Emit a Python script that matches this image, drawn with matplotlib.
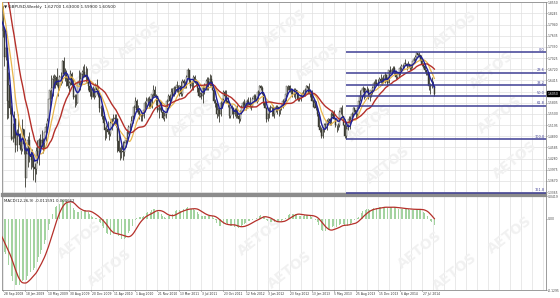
import matplotlib
matplotlib.use('Agg')
import matplotlib.pyplot as plt
from matplotlib import rcParams, transforms
import numpy as np
import pandas as pd

# GBPUSD weekly, first bar = week of 28 Sep 2008
# closes before the first shown bar (Mar-Sep 2008), only used to warm up the indicators
pre_close = [2.0150, 2.0250, 1.9850, 2.0000, 1.9950, 1.9700, 1.9950, 1.9700, 1.9750, 1.9500,
             1.9500, 1.9800, 1.9750, 1.9700, 1.9650, 1.9800, 1.9950, 1.9800, 1.9800, 1.9950,
             1.9850, 1.9800, 1.9100, 1.8650, 1.8600, 1.8200, 1.7550, 1.7800, 1.8200, 1.8450]

close = [1.7750, 1.7050, 1.7300, 1.5850, 1.6300, 1.5650, 1.4820, 1.4860, 1.5350, 1.4650,
         1.4950, 1.4950, 1.4640, 1.4550, 1.5100, 1.4680, 1.3750, 1.4400, 1.4800, 1.4400,
         1.4350, 1.4250, 1.4050, 1.4000, 1.4500, 1.4350, 1.4800, 1.4600, 1.4800, 1.4700,
         1.5000, 1.5150, 1.5300, 1.5900, 1.6150, 1.6200, 1.6450, 1.6480, 1.6500, 1.6300,
         1.6200, 1.6500, 1.6500, 1.6950, 1.6600, 1.6550, 1.6500, 1.6250, 1.6350, 1.6600,
         1.6300, 1.5950, 1.6000, 1.5800, 1.6350, 1.6400, 1.6450, 1.6600, 1.6650, 1.6550,
         1.6500, 1.6400, 1.6250, 1.6100, 1.5950, 1.6150, 1.6000, 1.6300, 1.6150, 1.6000,
         1.5650, 1.5650, 1.5450, 1.5250, 1.5050, 1.5100, 1.5000, 1.4950, 1.5250, 1.5350,
         1.5350, 1.5400, 1.5350, 1.4750, 1.4500, 1.4450, 1.4500, 1.4450, 1.4700, 1.4800,
         1.5000, 1.5150, 1.5150, 1.5300, 1.5450, 1.5700, 1.5850, 1.5600, 1.5550, 1.5500,
         1.5450, 1.5450, 1.5600, 1.5800, 1.5850, 1.5900, 1.5900, 1.5700, 1.6050, 1.6150,
         1.6000, 1.6000, 1.5600, 1.5650, 1.5800, 1.5550, 1.5400, 1.5450, 1.5500, 1.5850,
         1.6000, 1.5850, 1.6100, 1.6000, 1.6200, 1.6200, 1.6300, 1.6100, 1.6250, 1.6050,
         1.6400, 1.6350, 1.6350, 1.6500, 1.6700, 1.6400, 1.6250, 1.6350, 1.6500, 1.6400,
         1.6350, 1.6200, 1.6000, 1.6050, 1.6000, 1.6200, 1.6300, 1.6300, 1.6400, 1.6300,
         1.6450, 1.6300, 1.6150, 1.5850, 1.5800, 1.5500, 1.5600, 1.5500, 1.5800, 1.5900,
         1.6100, 1.6000, 1.5850, 1.5800, 1.5450, 1.5650, 1.5650, 1.5500, 1.5600, 1.5550,
         1.5450, 1.5350, 1.5550, 1.5700, 1.5800, 1.5750, 1.5800, 1.5850, 1.5800, 1.5750,
         1.5700, 1.5900, 1.6000, 1.5900, 1.5850, 1.6100, 1.6250, 1.6200, 1.6050, 1.5800,
         1.5650, 1.5350, 1.5500, 1.5650, 1.5650, 1.5700, 1.5500, 1.5650, 1.5700, 1.5700,
         1.5650, 1.5700, 1.5750, 1.5850, 1.5900, 1.6050, 1.6250, 1.6250, 1.6150, 1.6150,
         1.6050, 1.6050, 1.6150, 1.6050, 1.5900, 1.5900, 1.6000, 1.6050, 1.6050, 1.6150,
         1.6250, 1.6200, 1.6050, 1.6100, 1.5850, 1.5700, 1.5800, 1.5650, 1.5500, 1.5150,
         1.5050, 1.4900, 1.5100, 1.5200, 1.5200, 1.5300, 1.5350, 1.5300, 1.5500, 1.5550,
         1.5350, 1.5200, 1.5200, 1.5200, 1.5550, 1.5650, 1.5450, 1.5200, 1.4900, 1.5100,
         1.5200, 1.5350, 1.5350, 1.5500, 1.5650, 1.5600, 1.5500, 1.5650, 1.5850, 1.6000,
         1.6150, 1.6200, 1.5950, 1.6150, 1.6150, 1.5950, 1.6000, 1.6150, 1.6200, 1.6350,
         1.6350, 1.6300, 1.6350, 1.6450, 1.6400, 1.6450, 1.6400, 1.6550, 1.6450, 1.6350,
         1.6700, 1.6650, 1.6700, 1.6750, 1.6650, 1.6500, 1.6600, 1.6600, 1.6750, 1.6800,
         1.6800, 1.6900, 1.6850, 1.6800, 1.6850, 1.6750, 1.6800, 1.6950, 1.7000, 1.7050,
         1.7150, 1.7100, 1.7100, 1.6950, 1.6850, 1.6800, 1.6700, 1.6600, 1.6600, 1.6250,
         1.6250, 1.6300, 1.6270, 1.6050]

high = [1.8450, 1.7850, 1.7700, 1.7250, 1.6650, 1.6300, 1.5750, 1.5250, 1.5570, 1.5400,
        1.5100, 1.5500, 1.4990, 1.4800, 1.5350, 1.5100, 1.4850, 1.4600, 1.4900, 1.5000,
        1.4500, 1.4550, 1.4350, 1.4150, 1.4600, 1.4800, 1.4850, 1.4950, 1.5050, 1.4850,
        1.5000, 1.5250, 1.5400, 1.5900, 1.6150, 1.6550, 1.6550, 1.6600, 1.6550, 1.6750,
        1.6450, 1.6550, 1.6650, 1.6980, 1.7050, 1.6750, 1.6700, 1.6500, 1.6400, 1.6700,
        1.6650, 1.6450, 1.6050, 1.6050, 1.6350, 1.6700, 1.6650, 1.6700, 1.6800, 1.6850,
        1.6800, 1.6750, 1.6450, 1.6400, 1.6200, 1.6250, 1.6200, 1.6350, 1.6450, 1.6250,
        1.6100, 1.5750, 1.5750, 1.5550, 1.5150, 1.5200, 1.5300, 1.5100, 1.5300, 1.5400,
        1.5500, 1.5500, 1.5500, 1.5400, 1.5100, 1.4600, 1.4650, 1.4750, 1.4750, 1.4850,
        1.5100, 1.5200, 1.5250, 1.5450, 1.5500, 1.5750, 1.5950, 1.5900, 1.5750, 1.5600,
        1.5500, 1.5550, 1.5650, 1.5850, 1.5950, 1.5950, 1.6000, 1.5900, 1.6050, 1.6300,
        1.6250, 1.6050, 1.6000, 1.5750, 1.5850, 1.5850, 1.5600, 1.5550, 1.5700, 1.5900,
        1.6050, 1.6050, 1.6200, 1.6200, 1.6250, 1.6250, 1.6400, 1.6300, 1.6300, 1.6400,
        1.6450, 1.6450, 1.6400, 1.6550, 1.6750, 1.6700, 1.6450, 1.6400, 1.6550, 1.6550,
        1.6450, 1.6400, 1.6250, 1.6100, 1.6100, 1.6250, 1.6350, 1.6450, 1.6500, 1.6500,
        1.6600, 1.6550, 1.6400, 1.6150, 1.5900, 1.5800, 1.5700, 1.5650, 1.5850, 1.5900,
        1.6150, 1.6150, 1.6150, 1.5950, 1.5800, 1.5700, 1.5750, 1.5700, 1.5650, 1.5700,
        1.5750, 1.5500, 1.5600, 1.5750, 1.5850, 1.5900, 1.5850, 1.5900, 1.5950, 1.5950,
        1.5800, 1.5950, 1.6050, 1.6050, 1.6000, 1.6150, 1.6300, 1.6300, 1.6250, 1.6100,
        1.5850, 1.5700, 1.5600, 1.5700, 1.5750, 1.5700, 1.5750, 1.5650, 1.5750, 1.5750,
        1.5700, 1.5700, 1.5750, 1.5900, 1.5920, 1.6050, 1.6250, 1.6300, 1.6300, 1.6200,
        1.6150, 1.6200, 1.6200, 1.6150, 1.6100, 1.5950, 1.6050, 1.6100, 1.6150, 1.6200,
        1.6300, 1.6250, 1.6350, 1.6150, 1.6150, 1.5900, 1.5900, 1.5850, 1.5700, 1.5550,
        1.5200, 1.5150, 1.5150, 1.5250, 1.5250, 1.5350, 1.5400, 1.5400, 1.5550, 1.5600,
        1.5600, 1.5400, 1.5200, 1.5250, 1.5600, 1.5700, 1.5750, 1.5450, 1.5350, 1.5200,
        1.5300, 1.5450, 1.5450, 1.5550, 1.5700, 1.5700, 1.5600, 1.5700, 1.5900, 1.6150,
        1.6150, 1.6250, 1.6200, 1.6200, 1.6250, 1.6200, 1.6100, 1.6150, 1.6250, 1.6400,
        1.6450, 1.6450, 1.6450, 1.6500, 1.6600, 1.6500, 1.6550, 1.6650, 1.6600, 1.6500,
        1.6700, 1.6800, 1.6750, 1.6800, 1.6800, 1.6700, 1.6650, 1.6700, 1.6800, 1.6850,
        1.6850, 1.6900, 1.6990, 1.6900, 1.6950, 1.6850, 1.6850, 1.6950, 1.7050, 1.7100,
        1.7180, 1.7170, 1.7190, 1.7100, 1.7000, 1.6900, 1.6800, 1.6700, 1.6650, 1.6650,
        1.6350, 1.6520, 1.6400, 1.6300]

low = [1.7600, 1.6800, 1.6980, 1.5350, 1.5400, 1.5500, 1.4800, 1.4720, 1.4850, 1.4450,
       1.4500, 1.4900, 1.4520, 1.4400, 1.4500, 1.4400, 1.3500, 1.3800, 1.4050, 1.4200,
       1.4000, 1.4050, 1.3700, 1.3650, 1.3850, 1.4150, 1.4100, 1.4550, 1.4600, 1.4440,
       1.4550, 1.4750, 1.5000, 1.5200, 1.5650, 1.5900, 1.6000, 1.6200, 1.6200, 1.6250,
       1.6000, 1.6150, 1.6300, 1.6350, 1.6550, 1.6400, 1.6250, 1.6200, 1.6050, 1.6300,
       1.6250, 1.5900, 1.5700, 1.5750, 1.5800, 1.6300, 1.6150, 1.6350, 1.6500, 1.6500,
       1.6350, 1.6350, 1.6150, 1.6000, 1.5900, 1.5950, 1.5900, 1.5950, 1.6050, 1.5950,
       1.5550, 1.5450, 1.5350, 1.5200, 1.4800, 1.4850, 1.4950, 1.4800, 1.4900, 1.5050,
       1.5300, 1.5200, 1.5150, 1.4450, 1.4450, 1.4250, 1.4300, 1.4250, 1.4350, 1.4600,
       1.4750, 1.4950, 1.5050, 1.5050, 1.5250, 1.5400, 1.5700, 1.5550, 1.5500, 1.5350,
       1.5300, 1.5300, 1.5400, 1.5550, 1.5700, 1.5750, 1.5650, 1.5650, 1.5650, 1.5950,
       1.5950, 1.5750, 1.5550, 1.5400, 1.5600, 1.5550, 1.5350, 1.5300, 1.5400, 1.5550,
       1.5850, 1.5750, 1.5850, 1.5950, 1.6000, 1.6050, 1.6100, 1.6050, 1.6000, 1.6000,
       1.6000, 1.6200, 1.6200, 1.6200, 1.6450, 1.6350, 1.6200, 1.6150, 1.6150, 1.6350,
       1.6300, 1.6100, 1.5950, 1.5950, 1.5900, 1.5800, 1.6050, 1.6150, 1.6150, 1.6150,
       1.6250, 1.6250, 1.6150, 1.5800, 1.5700, 1.5400, 1.5450, 1.5270, 1.5450, 1.5650,
       1.5800, 1.5850, 1.5800, 1.5700, 1.5400, 1.5400, 1.5500, 1.5400, 1.5450, 1.5400,
       1.5400, 1.5250, 1.5300, 1.5500, 1.5650, 1.5650, 1.5600, 1.5700, 1.5750, 1.5650,
       1.5600, 1.5750, 1.5850, 1.5850, 1.5800, 1.5850, 1.6050, 1.6150, 1.6050, 1.5750,
       1.5650, 1.5270, 1.5300, 1.5400, 1.5550, 1.5450, 1.5450, 1.5400, 1.5550, 1.5500,
       1.5450, 1.5500, 1.5600, 1.5650, 1.5750, 1.5850, 1.6000, 1.6150, 1.6100, 1.6050,
       1.5950, 1.5950, 1.5900, 1.6000, 1.5850, 1.5850, 1.5850, 1.5950, 1.6000, 1.6000,
       1.6150, 1.6100, 1.6050, 1.5950, 1.5850, 1.5700, 1.5650, 1.5600, 1.5450, 1.5150,
       1.5000, 1.4850, 1.4850, 1.5000, 1.5100, 1.5050, 1.5200, 1.5200, 1.5200, 1.5450,
       1.5350, 1.5150, 1.5000, 1.5050, 1.5150, 1.5500, 1.5400, 1.5200, 1.4850, 1.4814,
       1.5050, 1.5250, 1.5100, 1.5300, 1.5450, 1.5550, 1.5400, 1.5400, 1.5650, 1.5850,
       1.5950, 1.6100, 1.5900, 1.5950, 1.6100, 1.5900, 1.5850, 1.5950, 1.6050, 1.6150,
       1.6300, 1.6300, 1.6250, 1.6350, 1.6350, 1.6300, 1.6350, 1.6350, 1.6400, 1.6250,
       1.6350, 1.6600, 1.6600, 1.6650, 1.6600, 1.6450, 1.6450, 1.6500, 1.6550, 1.6700,
       1.6750, 1.6750, 1.6850, 1.6700, 1.6800, 1.6700, 1.6700, 1.6750, 1.6950, 1.6950,
       1.7050, 1.7050, 1.7050, 1.6950, 1.6800, 1.6750, 1.6650, 1.6550, 1.6550, 1.6150,
       1.6050, 1.6200, 1.6250, 1.5990]

date_labels = ['28 Sep 2008', '18 Jan 2009', '10 May 2009', '30 Aug 2009', '20 Dec 2009',
               '11 Apr 2010', '1 Aug 2010', '21 Nov 2010', '13 Mar 2011', '3 Jul 2011',
               '23 Oct 2011', '12 Feb 2012', '3 Jun 2012', '23 Sep 2012', '13 Jan 2013',
               '5 May 2013', '25 Aug 2013', '15 Dec 2013', '6 Apr 2014', '27 Jul 2014']

price_ticks = [1.8550, 1.8245, 1.7940, 1.7635, 1.7330, 1.7025, 1.6720, 1.6415, 1.6110,
               1.5805, 1.5500, 1.5195, 1.4890, 1.4585, 1.4280, 1.3975, 1.3670, 1.3365]

fib_levels = [0.0, 23.6, 38.2, 50.0, 61.8, 100.0, 161.8]

#######################################
# indicators
#######################################
allc = pd.Series(pre_close + close)
xall = np.arange(len(allc)) - len(pre_close)
ma_fast = allc.rolling(5).mean()
ma_mid = allc.rolling(10).mean()
ma_slow = allc.rolling(21).mean()
ema12 = allc.ewm(span=12, adjust=False).mean()
ema26 = allc.ewm(span=26, adjust=False).mean()
macd = ema12 - ema26
sig = macd.rolling(9).mean()

n = len(close)
x = np.arange(n)
opn = [pre_close[-1]] + close[:-1]

rcParams['font.family'] = 'DejaVu Sans'
rcParams['font.size'] = 3.5

W, H = 560, 298
fig = plt.figure(figsize=(W / 100, H / 100), dpi=100)
fig.patch.set_facecolor('white')
ax = fig.add_axes([2 / W, (H - 194) / H, 544 / W, 192 / H])
ax2 = fig.add_axes([2 / W, (H - 290) / H, 544 / W, 94 / H])

xl = (-0.7, 394.0)
gridc = '#e0e0e0'
spc = '#8c8c8c'

# main price panel
ax.set_xlim(xl)
ax.set_ylim(1.3313, 1.8555)
ax.set_xticks(np.arange(0, 395, 8))
ax.set_xticklabels([])
ax.tick_params(axis='x', length=0)
ax.yaxis.tick_right()
ax.set_yticks(price_ticks)
# the current price box covers the tick label next to it
ax.set_yticklabels(['' if abs(p - close[-1]) < 0.008 else '%.4f' % p for p in price_ticks])
ax.tick_params(axis='y', length=1, pad=0.5, labelsize=2.2, colors='#444444', width=0.4)
ax.grid(color=gridc, lw=0.5)
ax.set_axisbelow(True)
for s in ax.spines.values():
    s.set_color(spc)
    s.set_linewidth(0.6)
ax.spines['bottom'].set_linewidth(1.6)

# candles
up = np.array(close) >= np.array(opn)
ax.vlines(x, low, high, color='#3a3a32', lw=0.6, zorder=2)
bot = np.minimum(opn, close)
hgt = np.abs(np.array(close) - np.array(opn))
ax.bar(x[up], hgt[up], bottom=bot[up], width=0.7, color='white', edgecolor='#3a3a32', lw=0.3, zorder=2)
ax.bar(x[~up], hgt[~up], bottom=bot[~up], width=0.7, color='#3a3a32', edgecolor='#3a3a32', lw=0.3, zorder=2)

# moving averages
ax.plot(xall, ma_mid, color='#e8b64c', lw=0.9, zorder=3)
ax.plot(xall, ma_slow, color='#b5302a', lw=1.0, zorder=3)
ax.plot(xall, ma_fast, color='#1e1e9a', lw=1.0, zorder=4)

# fibonacci from the Jul 2013 low to the Jul 2014 high
i_lo = 230 + int(np.argmin(low[230:]))
fhi = max(high[i_lo:])
flo = low[i_lo]
fibc = '#3f3f94'
for lv in fib_levels:
    p = fhi - lv / 100 * (fhi - flo)
    ax.hlines(p, i_lo, xl[1], color=fibc, lw=1.1, zorder=3)
    ax.text(xl[1] - 1, p + 0.001, '%.1f' % lv, ha='right', va='bottom', fontsize=2.5, color=fibc, zorder=3)

# current price box
tr = transforms.blended_transform_factory(ax.transAxes, ax.transData)
ax.text(1.003, close[-1], '%.4f' % close[-1], transform=tr, ha='left', va='center', fontsize=2.2,
        color='white', bbox=dict(boxstyle='square,pad=0.15', fc='black', ec='black'), zorder=6)

ax.text(0.004, 0.985, '\u25bc GBPUSD,Weekly  %.5f %.5f %.5f %.5f' % (opn[-1], high[-1], low[-1], close[-1]),
        transform=ax.transAxes, ha='left', va='top', fontsize=3.0, color='#222222')

# MACD panel
ax2.set_xlim(xl)
mlo = float(np.nanmin(macd[len(pre_close):])) * 71 / 66
mhi = -mlo * 23 / 71
ax2.set_ylim(mlo, mhi)
ax2.bar(x, macd[len(pre_close):], width=0.5, color='#a3d3a0', zorder=2)
ax2.plot(xall, sig, color='#b5302a', lw=0.9, zorder=3)
ax2.set_xticks(np.arange(0, 395, 8))
ax2.set_xticklabels([])
ax2.tick_params(axis='x', length=0)
ax2.grid(axis='x', color=gridc, lw=0.5)
ax2.set_axisbelow(True)
ax2.yaxis.tick_right()
ax2.set_yticks([mhi, 0, mlo])
ax2.set_yticklabels(['%.4f' % mhi, '0.00', '%.4f' % mlo])
ax2.tick_params(axis='y', length=1, pad=0.5, labelsize=2.2, colors='#444444', width=0.4)
for s in ax2.spines.values():
    s.set_color(spc)
    s.set_linewidth(0.6)
ax2.spines['top'].set_linewidth(1.6)
ax2.text(0.004, 0.97, 'MACD(12,26,9) %.6f %.6f' % (macd.iloc[-1], sig.iloc[-1]),
         transform=ax2.transAxes, ha='left', va='top', fontsize=2.8, color='#222222')

# date labels under the MACD panel
trd = transforms.blended_transform_factory(ax2.transData, ax2.transAxes)
for i in range(len(date_labels)):
    ax2.text(16 * i + 0.5, -0.025, date_labels[i], transform=trd, ha='left', va='top', fontsize=2.2, color='#333333')
    ax2.plot([16 * i, 16 * i], [0, -0.015], transform=trd, color='#666666', lw=0.4, clip_on=False)

# AETOS watermark
wm = [(140, 40), (285, 28), (318, 62), (455, 30), (492, 70), (60, 120), (193, 118),
      (370, 123), (210, 160), (388, 165), (500, 115), (515, 160), (90, 75)]
wm2 = [(80, 240), (260, 237), (290, 270), (110, 268), (420, 250), (455, 272), (510, 235)]
for (px, py) in wm:
    ax.text(px / W, 1 - py / H, 'AETOS', transform=fig.transFigure, ha='center', va='center',
            fontsize=10, fontweight='bold', rotation=38, color='#f1f1f1', zorder=1)
for (px, py) in wm2:
    ax2.text(px / W, 1 - py / H, 'AETOS', transform=fig.transFigure, ha='center', va='center',
             fontsize=10, fontweight='bold', rotation=38, color='#f1f1f1', zorder=1)

fig.savefig('out.png', dpi=100, facecolor='white')
